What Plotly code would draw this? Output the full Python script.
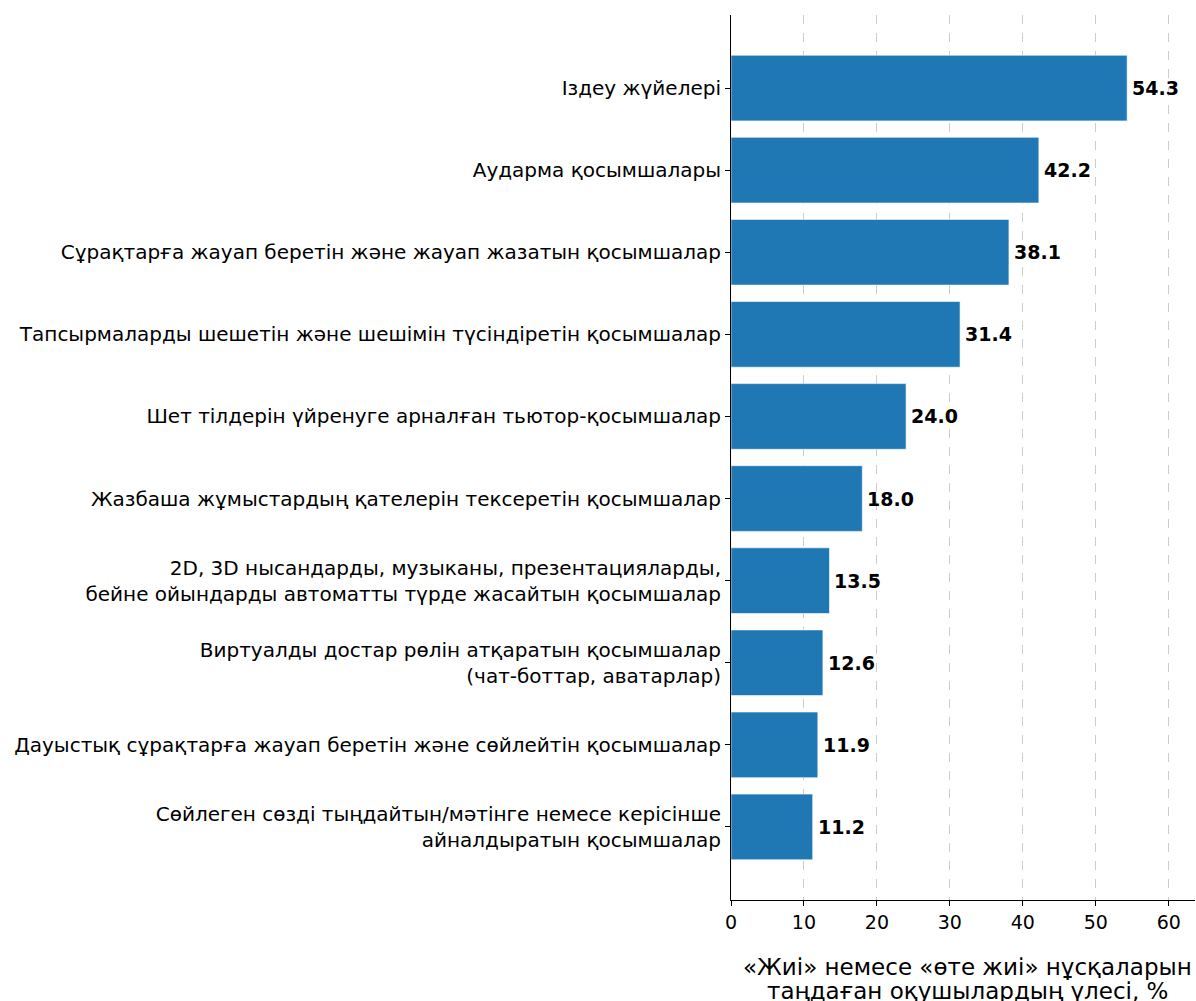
import plotly.graph_objects as go

categories = [
    "Іздеу жүйелері",
    "Аударма қосымшалары",
    "Сұрақтарға жауап беретін және жауап жазатын қосымшалар",
    "Тапсырмаларды шешетін және шешімін түсіндіретін қосымшалар",
    "Шет тілдерін үйренуге арналған тьютор-қосымшалар",
    "Жазбаша жұмыстардың қателерін тексеретін қосымшалар",
    "2D, 3D нысандарды, музыканы, презентацияларды,<br>бейне ойындарды автоматты түрде жасайтын қосымшалар",
    "Виртуалды достар рөлін атқаратын қосымшалар<br>(чат-боттар, аватарлар)",
    "Дауыстық сұрақтарға жауап беретін және сөйлейтін қосымшалар",
    "Сөйлеген сөзді тыңдайтын/мәтінге немесе керісінше<br>айналдыратын қосымшалар",
]
values = [54.3, 42.2, 38.1, 31.4, 24.0, 18.0, 13.5, 12.6, 11.9, 11.2]
value_labels = [f"{v:.1f}" for v in values]
x_ticks = [0, 10, 20, 30, 40, 50, 60]
x_title_lines = ["«Жиі» немесе «өте жиі» нұсқаларын", "таңдаған оқушылардың үлесі, %"]

FONT = "DejaVu Sans"

fig = go.Figure()
fig.add_trace(go.Bar(
    x=values, y=categories, orientation="h", width=0.8,
    marker=dict(color="#1f77b4", line=dict(color="rgba(255,255,255,0.6)", width=1)),
    hoverinfo="x+y",
))

for v, lab, cat in zip(values, value_labels, categories):
    fig.add_annotation(
        x=v, y=cat, text=f"<b>{lab}</b>", showarrow=False,
        xanchor="left", yanchor="middle", xshift=3,
        font=dict(family=FONT, size=19, color="black"),
    )

for i, line in enumerate(x_title_lines):
    fig.add_annotation(
        x=0.5, xref="x domain", y=0, yref="paper", text=line, showarrow=False,
        xanchor="center", yanchor="middle", xshift=4, yshift=-67 - 24 * i,
        font=dict(family=FONT, size=23, color="black"),
    )

fig.update_layout(
    width=1196, height=1001,
    margin=dict(l=731, r=1, t=15, b=101),
    plot_bgcolor="white", paper_bgcolor="white",
    showlegend=False,
    font=dict(family=FONT, size=20, color="black"),
    xaxis=dict(
        range=[0, 63.6], tickvals=x_ticks, ticktext=[str(t) for t in x_ticks],
        showgrid=True, gridcolor="#cccccc", griddash="dash", gridwidth=1,
        showline=True, linecolor="black", linewidth=1,
        ticks="outside", ticklen=5, tickcolor="black",
        zeroline=False, layer="above traces",
        tickfont=dict(size=19),
    ),
    yaxis=dict(
        type="category", categoryorder="array", categoryarray=categories,
        range=[9.89, -0.89],
        showgrid=False, showline=True, linecolor="black", linewidth=1,
        ticks="outside", ticklen=5, tickcolor="black",
        zeroline=False, tickfont=dict(size=20),
    ),
)

fig.write_html(
    "out.html",
    config={"displayModeBar": False},
    post_script="document.body.style.margin='0px';document.body.style.overflow='hidden';",
)
